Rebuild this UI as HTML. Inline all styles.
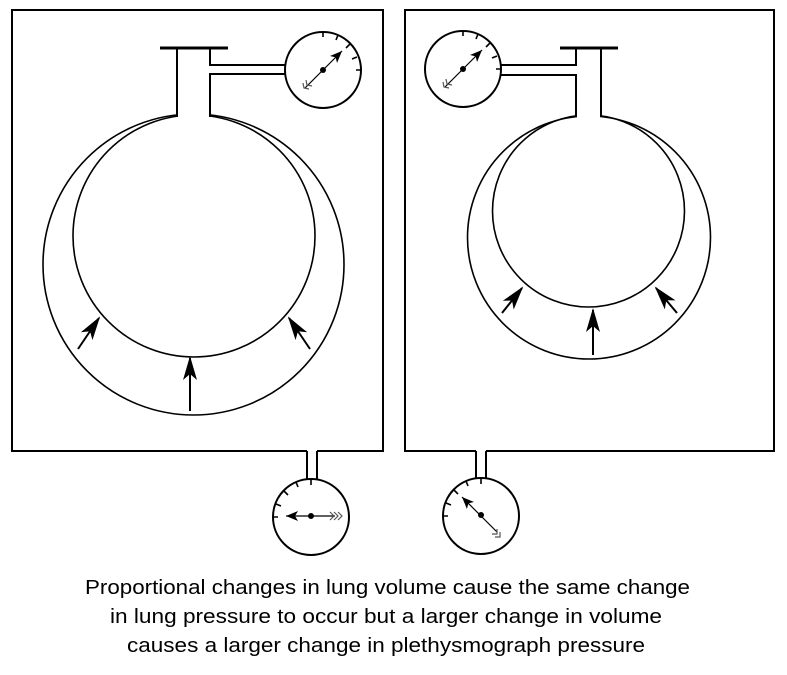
<!DOCTYPE html>
<html><head><style>
html,body{margin:0;padding:0;background:#fff;width:787px;height:675px;overflow:hidden}
svg{display:block}
</style></head><body>
<svg width="787" height="675" viewBox="0 0 787 675" xmlns="http://www.w3.org/2000/svg">
<defs>
<marker id="ah" viewBox="0 0 24 20" refX="22" refY="10" markerWidth="24" markerHeight="20" markerUnits="userSpaceOnUse" orient="auto">
<path d="M0,3 L24,10 L0,17 L6,10 Z" fill="#000"/>
</marker>
<marker id="sh" viewBox="0 0 12 12" refX="12" refY="6" markerWidth="12" markerHeight="12" markerUnits="userSpaceOnUse" orient="auto">
<path d="M0,1 L12,6 L0,11 L3,6 Z" fill="#000"/>
</marker>
</defs>
<g fill="none" stroke="#000" stroke-width="2">
<path d="M307,451 H12 V10 H383 V451 H317"/>
<path d="M476,451 H405 V10 H774 V451 H486"/>
<path d="M307,451 V480 M317,451 V480"/>
<path d="M476,451 V479 M486,451 V479"/>
</g>
<g fill="none" stroke="#000" stroke-width="1.6">
<circle cx="193.5" cy="264.5" r="150.5"/>
<circle cx="194" cy="236" r="121"/>
<circle cx="589" cy="237.5" r="121.5"/>
<circle cx="588.5" cy="211" r="96"/>
</g>
<rect x="178" y="50" width="31" height="68" fill="#fff"/>
<rect x="577" y="50" width="23" height="68" fill="#fff"/>
<g fill="none" stroke="#000" stroke-width="2">
<path d="M177,48 V117 M210,117 V74 H285 M210,48 V65 H285"/>
<path d="M160,48 H228" stroke-width="3"/>
<path d="M601,48 V117 M576,117 V75 H501 M576,48 V65 H501"/>
<path d="M560,48 H618" stroke-width="3"/>
<circle cx="323" cy="70" r="38"/>
<circle cx="463" cy="69" r="38"/>
<circle cx="311" cy="517" r="38"/>
<circle cx="481" cy="516" r="38"/>
</g>
<g stroke="#000" stroke-width="1.6">
<path d="M323,32 v5 M338,35 l-2,5 M350,44 l-4,4 M357,57 l-5,2 M361,70 h-5"/>
<path d="M463,31 v5 M478,34 l-2,5 M490,43 l-4,4 M497,56 l-5,2 M501,69 h-5"/>
<path d="M311,479 v6 M296,482 l2,5 M284,491 l4,4 M276,504 l5,2 M273,517 h5"/>
<path d="M481,478 v6 M466,481 l2,5 M454,490 l4,4 M446,503 l5,2 M443,516 h5"/>
</g>
<g stroke="#000" stroke-width="1.2" fill="none">
<line x1="305" y1="88" x2="342" y2="51" marker-end="url(#sh)"/>
<line x1="445" y1="87" x2="482" y2="50" marker-end="url(#sh)"/>
<line x1="335" y1="516" x2="286" y2="516" marker-end="url(#sh)"/>
<line x1="497" y1="532" x2="462" y2="497" marker-end="url(#sh)"/>
</g>
<g stroke="#555" stroke-width="1.2" fill="none">
<path d="M303,83 l1,5 l5,1 M306,80 l1,5 l5,1"/>
<path d="M443,82 l1,5 l5,1 M446,79 l1,5 l5,1"/>
<path d="M330,512 l4,4 l-4,4 M334,512 l4,4 l-4,4 M338,512 l4,4 l-4,4"/>
<path d="M492,534 l5,0 l0,-5 M495,537 l5,0 l0,-5"/>
</g>
<g fill="#000">
<circle cx="323" cy="70" r="3"/><circle cx="463" cy="69" r="3"/>
<circle cx="311" cy="516" r="3"/><circle cx="481" cy="515" r="3"/>
</g>
<g stroke="#000" stroke-width="2" fill="none">
<line x1="190" y1="411" x2="190" y2="358" marker-end="url(#ah)"/>
<line x1="78" y1="349" x2="99" y2="318" marker-end="url(#ah)"/>
<line x1="310" y1="349" x2="289" y2="318" marker-end="url(#ah)"/>
<line x1="593" y1="355" x2="593" y2="310" marker-end="url(#ah)"/>
<line x1="502" y1="313" x2="522" y2="288" marker-end="url(#ah)"/>
<line x1="677" y1="313" x2="656" y2="288" marker-end="url(#ah)"/>
</g>
<g font-family="'Comic Sans MS','Liberation Sans',sans-serif" font-size="20" fill="#000" lengthAdjust="spacingAndGlyphs">
<text x="85" y="594" textLength="605" lengthAdjust="spacingAndGlyphs">Proportional changes in lung volume cause the same change</text>
<text x="110" y="623" textLength="552" lengthAdjust="spacingAndGlyphs">in lung pressure to occur but a larger change in volume</text>
<text x="127" y="652" textLength="518" lengthAdjust="spacingAndGlyphs">causes a larger change in plethysmograph pressure</text>
</g>
</svg>
</body></html>
